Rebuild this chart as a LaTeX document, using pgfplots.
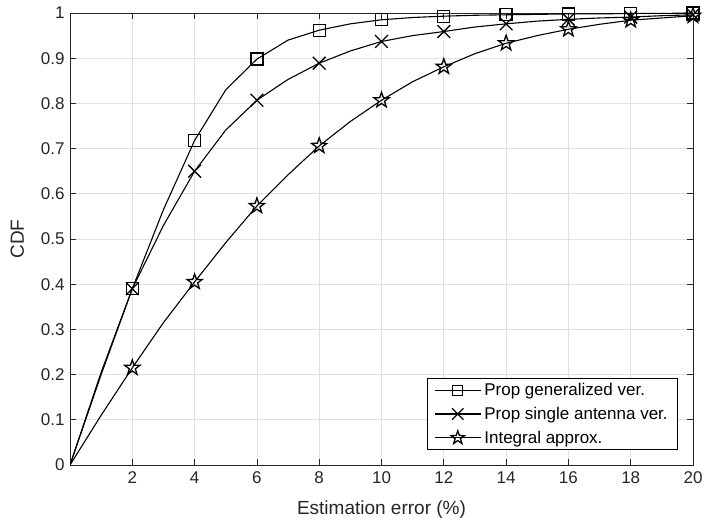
\documentclass[border=0pt]{standalone}
\usepackage{fontspec}
\setmainfont{Liberation Sans}
\usepackage{pgfplots}
\pgfplotsset{compat=1.18}
\definecolor{axgray}{RGB}{38,38,38}
\definecolor{gridgray}{RGB}{225,225,225}
\pgfdeclareplotmark{pentagram}{%
  \pgfpathmoveto{\pgfpointpolar{90}{\pgfplotmarksize}}%
  \pgfpathlineto{\pgfpointpolar{126}{0.40\pgfplotmarksize}}%
  \pgfpathlineto{\pgfpointpolar{162}{\pgfplotmarksize}}%
  \pgfpathlineto{\pgfpointpolar{198}{0.40\pgfplotmarksize}}%
  \pgfpathlineto{\pgfpointpolar{234}{\pgfplotmarksize}}%
  \pgfpathlineto{\pgfpointpolar{270}{0.40\pgfplotmarksize}}%
  \pgfpathlineto{\pgfpointpolar{306}{\pgfplotmarksize}}%
  \pgfpathlineto{\pgfpointpolar{342}{0.40\pgfplotmarksize}}%
  \pgfpathlineto{\pgfpointpolar{18}{\pgfplotmarksize}}%
  \pgfpathlineto{\pgfpointpolar{54}{0.40\pgfplotmarksize}}%
  \pgfpathclose\pgfusepathqstroke}
\begin{document}
\begin{tikzpicture}
\begin{axis}[
  width=623pt, height=452pt, scale only axis,
  xmin=0, xmax=20, ymin=0, ymax=1,
  xtick={2,4,...,20},
  ytick={0,0.1,...,1},
  yticklabels={0,0.1,0.2,0.3,0.4,0.5,0.6,0.7,0.8,0.9,1},
  /pgf/number format/assume math mode=true,
  tick align=inside,
  major tick length=6pt,
  grid=major,
  major grid style={gridgray, line width=0.7pt},
  axis line style={axgray, line width=0.8pt},
  every tick/.style={axgray, line width=0.8pt},
  tick label style={color=axgray, font=\fontsize{17pt}{20pt}\selectfont},
  xticklabel style={yshift=-3pt},
  yticklabel style={xshift=-2pt},
  xlabel={Estimation error (\%)},
  ylabel={CDF},
  label style={color=axgray, font=\fontsize{19pt}{22pt}\selectfont},
  xlabel style={yshift=-10pt},
  ylabel style={yshift=10pt},
  legend style={at={(0.976,0.033)}, anchor=south east, draw=black, line width=0.7pt,
    font=\fontsize{17pt}{20pt}\selectfont, inner xsep=7pt, inner ysep=3pt, row sep=6pt,
    cells={anchor=west}, nodes={inner xsep=3pt}},
  legend image code/.code={%
    \draw[mark repeat=2,mark phase=2] plot coordinates {(0pt,0pt) (23pt,0pt) (46pt,0pt)};},
]
\addlegendimage{black, line width=1.1pt, mark=square, mark size=5pt, mark options={solid, line width=1.3pt, fill=none}}
\addlegendentry{Prop generalized ver.}
\addlegendimage{black, line width=1.1pt, mark=x, mark size=8pt, mark options={solid, line width=1.3pt, fill=none}}
\addlegendentry{Prop single antenna ver.}
\addlegendimage{black, line width=1.1pt, mark=pentagram, mark size=7pt, mark options={solid, line width=1.3pt, fill=none}}
\addlegendentry{Integral approx.}
\addplot[forget plot, black, line width=1.1pt, mark=square, mark size=6pt, mark options={solid, line width=1.3pt, fill=none}, mark indices={3,5,7,9,11,13,15,17,19,21}] coordinates {
(0,0) (1,0.205) (2,0.39) (3,0.565) (4,0.718) (5,0.83) (6,0.898) (7,0.94) (8,0.962) (9,0.976) (10,0.985)
(11,0.99) (12,0.993) (13,0.995) (14,0.996) (15,0.997) (16,0.998) (17,0.998) (18,0.999) (19,0.999) (20,1.0)};
\addplot[forget plot, black, line width=1.1pt, mark=x, mark size=9pt, mark options={solid, line width=1.3pt, fill=none}, mark indices={3,5,7,9,11,13,15,17,19,21}] coordinates {
(0,0) (1,0.2) (2,0.39) (3,0.53) (4,0.65) (5,0.741) (6,0.807) (7,0.853) (8,0.889) (9,0.916) (10,0.937)
(11,0.95) (12,0.959) (13,0.969) (14,0.976) (15,0.982) (16,0.986) (17,0.989) (18,0.991) (19,0.994) (20,0.996)};
\addplot[forget plot, black, line width=1.1pt, mark=pentagram, mark size=8pt, mark options={solid, line width=1.3pt, fill=none}, mark indices={3,5,7,9,11,13,15,17,19,21}] coordinates {
(0,0) (1,0.11) (2,0.215) (3,0.315) (4,0.405) (5,0.492) (6,0.573) (7,0.642) (8,0.706) (9,0.76) (10,0.807)
(11,0.848) (12,0.881) (13,0.91) (14,0.933) (15,0.95) (16,0.964) (17,0.975) (18,0.984) (19,0.989) (20,0.994)};
\end{axis}
\path (current axis.south west) ++(-70pt,-65pt) coordinate (bbsw);
\path (current axis.north east) ++(15pt,13pt) coordinate (bbne);
\useasboundingbox (bbsw) rectangle (bbne);
\end{tikzpicture}
\end{document}
